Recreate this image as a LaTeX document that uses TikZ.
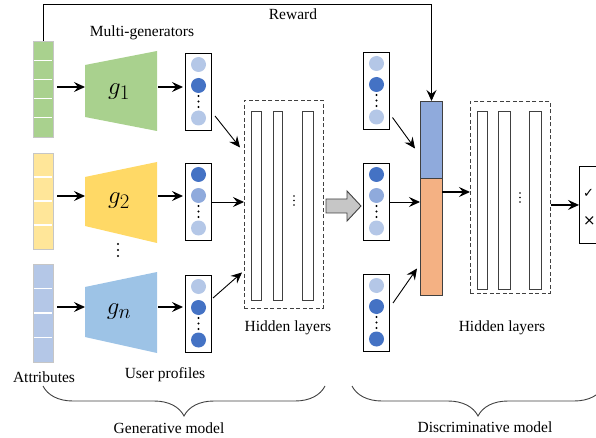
\documentclass[tikz,border=0pt]{standalone}
\usepackage{fontspec}
\setmainfont{Liberation Serif}
\newfontfamily\symfont{DejaVu Sans}
\usetikzlibrary{arrows.meta,decorations.pathreplacing,calc}
\definecolor{attgreen}{HTML}{A9D18E}
\definecolor{attyellow}{HTML}{FFE699}
\definecolor{attblue}{HTML}{B4C7E7}
\definecolor{gengreen}{HTML}{A9D18E}
\definecolor{genyellow}{HTML}{FFD966}
\definecolor{genblue}{HTML}{9DC3E6}
\definecolor{dotlight}{HTML}{B4C7E7}
\definecolor{dotmid}{HTML}{8FAADC}
\definecolor{dotdark}{HTML}{4472C4}
\definecolor{catblue}{HTML}{8FAADC}
\definecolor{catorange}{HTML}{F4B183}
\definecolor{edgegrey}{HTML}{404040}
\newcommand\profilebox[6]{%
  \node[profbox, anchor=north] (#1) at (#2,#3) {};
  \fill[#4] (#2,#3+11.5) circle (7.5pt);
  \fill[#5] (#2,#3+32.5) circle (7.5pt);
  \fill[#6] (#2,#3+65) circle (7.5pt);
  \foreach \dy in {43,48.5,54} {\fill (#2,#3+\dy) circle (1.1pt);}
}
\begin{document}
\begin{tikzpicture}[x=1pt,y=-1pt,
  arr/.style={-{Stealth[length=11pt,width=10pt,inset=4pt]}, line width=1.2pt},
  thinarr/.style={-{Stealth[length=11pt,width=10pt,inset=4pt]}, line width=0.9pt},
  txt/.style={font=\fontsize{15.5}{18}\selectfont, inner sep=0pt},
  glabel/.style={font=\fontsize{28}{32}\selectfont, inner sep=0pt},
  attbar/.style={draw=gray!45, line width=0.8pt, minimum width=20pt, inner sep=0pt},
  profbox/.style={draw, line width=1pt, minimum width=26pt, minimum height=77pt, inner sep=0pt},
  hidbox/.style={draw=edgegrey, dash pattern=on 4pt off 2.5pt, line width=0.9pt, inner sep=0pt, anchor=north west},
  layerbar/.style={draw=edgegrey, line width=1pt, inner sep=0pt, minimum width=10pt, anchor=north west},
  bracestyle/.style={draw=edgegrey, line width=0.9pt, decorate, decoration={brace, mirror, amplitude=30pt}}
]
\useasboundingbox (0,0) rectangle (596,438);

% attribute bars
\node[attbar, fill=attgreen, minimum height=96pt] (a1) at (43,89) {};
\foreach \yy in {60.2,79.4,98.6,117.8} {\draw[white, line width=1.3pt] (33.6,\yy) -- (52.4,\yy);}
\node[attbar, fill=attyellow, minimum height=96pt] (a2) at (43,201) {};
\foreach \yy in {177,201,225} {\draw[white, line width=1.3pt] (33.6,\yy) -- (52.4,\yy);}
\node[attbar, fill=attblue, minimum height=98pt] (a3) at (43,313) {};
\foreach \yy in {288.5,313,337.5} {\draw[white, line width=1.3pt] (33.6,\yy) -- (52.4,\yy);}

% generators
\fill[gengreen] (85,65) -- (157,51) -- (157,131) -- (85,117) -- cycle;
\fill[genyellow] (85,177) -- (157,162) -- (157,243) -- (85,226) -- cycle;
\fill[genblue] (85,287) -- (157,272) -- (157,353) -- (85,337) -- cycle;
\coordinate (t1in) at (85,87);  \coordinate (t1out) at (158,87);
\coordinate (t2in) at (85,196); \coordinate (t2out) at (158,196);
\coordinate (t3in) at (85,307); \coordinate (t3out) at (158,307);
\node[glabel] (g1) at (119,92) {$g_1$};
\node[glabel] (g2) at (119,201) {$g_2$};
\node[glabel] (g3) at (119,312) {$g_n$};
\foreach \yy in {244,250,256} {\fill (118,\yy) circle (1.1pt);}

\draw[arr, shorten <=4pt] (a1.east |- t1in) -- (t1in);
\draw[arr, shorten <=4pt] (a2.east |- t2in) -- (t2in);
\draw[arr, shorten <=4pt] (a3.east |- t3in) -- (t3in);

% user profiles
\profilebox{p1}{198.5}{53}{dotlight}{dotdark}{dotlight}
\profilebox{p2}{198.5}{163}{dotdark}{dotmid}{dotlight}
\profilebox{p3}{198.5}{275}{dotlight}{dotdark}{dotdark}

\draw[arr, shorten >=2pt] (t1out) -- (t1out -| p1.west);
\draw[arr, shorten >=2pt] (t2out) -- (t2out -| p2.west);
\draw[arr, shorten >=2pt] (t3out) -- (t3out -| p3.west);

% hidden layers 1
\node[hidbox, minimum width=79pt, minimum height=208pt] (h1) at (244,100) {};
\node[layerbar, minimum height=189pt] (h1a) at (251,111) {};
\node[layerbar, minimum height=189pt, minimum width=9pt] (h1b) at (273,111) {};
\node[layerbar, minimum height=189pt, minimum width=11pt] (h1c) at (302,111) {};
\foreach \yy in {196,200.5,205} {\fill (294,\yy) circle (0.9pt);}

\draw[thinarr] ($(p1.east)+(3,24)$) -- ($(h1.west)+(-4,-57)$);
\draw[thinarr] (p2.east) -- (p2.east -| h1.west);
\draw[thinarr] ($(p3.east)+(1,-16)$) -- ($(h1.west)+(-2,68)$);

% gray arrow
\filldraw[fill=gray!45, draw=edgegrey, line width=0.9pt]
  (326,199) -- (347,199) -- (347,191) -- (361,206) -- (347,221) -- (347,213) -- (326,213) -- cycle;
\coordinate (garrow) at (343,206);

% discriminator inputs
\profilebox{d1}{376.5}{52}{dotlight}{dotdark}{dotlight}
\profilebox{d2}{376.5}{163}{dotdark}{dotmid}{dotlight}
\profilebox{d3}{376.5}{274}{dotlight}{dotdark}{dotdark}

% concat block
\node[draw=edgegrey, line width=1pt, fill=catblue, minimum width=22pt, minimum height=77pt, inner sep=0pt, anchor=north west] (cb) at (420,101) {};
\node[draw=edgegrey, line width=1pt, fill=catorange, minimum width=22pt, minimum height=117pt, inner sep=0pt, anchor=north west] (co) at (420,178) {};

\draw[thinarr] ($(d1.east)+(2.5,26.5)$) -- ($(cb.west)+(-5,8.5)$);
\draw[thinarr] (d2.east) -- (d2.east -| co.west);
\draw[thinarr] ($(d3.east)+(3,-10)$) -- ($(co.west)+(-3,31.5)$);

% hidden layers 2
\node[hidbox, minimum width=80pt, minimum height=192pt] (h2) at (470,101) {};
\node[layerbar, minimum height=178pt] (h2a) at (477,111) {};
\node[layerbar, minimum height=178pt, minimum width=12pt] (h2b) at (498,111) {};
\node[layerbar, minimum height=178pt, minimum width=12pt] (h2c) at (529,111) {};
\foreach \yy in {193,197.5,202} {\fill (520,\yy) circle (0.9pt);}

\coordinate (cbout) at (442,192);
\draw[arr] (cbout) -- (cbout -| h2.west);

% output
\node[draw, line width=0.9pt, minimum width=40pt, minimum height=77pt, inner sep=0pt, anchor=north west] (out) at (579,166) {};
\node[font=\symfont\fontsize{13}{14}\selectfont, inner sep=0pt, anchor=west] (chk) at (583,193) {✓};
\node[font=\symfont\fontsize{15}{16}\selectfont, inner sep=0pt, anchor=west] (crs) at (583,221) {×};
\draw[arr] (h2.east |- out.west) -- (out.west);

% reward
\draw[line width=0.9pt, -{Stealth[length=11pt,width=10pt,inset=4pt]}] (a1.north) -- ++(0,-36) -| (cb.north);
\node[txt] (rw) at (293,14) {Reward};

% labels
\node[txt] (lmg) at (142,33) {Multi-generators};
\node[txt] (latt) at (44,377) {Attributes};
\node[txt] (lup) at (165,375) {User profiles};
\node[txt] (lh1) at (288,328) {Hidden layers};
\node[txt] (lh2) at (502,328) {Hidden layers};

% braces
\coordinate (bg1) at (43,386); \coordinate (bg2) at (325,386);
\coordinate (bd1) at (352,386); \coordinate (bd2) at (604,386);
\draw[bracestyle] (bg1) -- (bg2);
\draw[bracestyle] (bd1) -- (bd2);
\node[txt] (lgen) at (169,428) {Generative model};
\node[txt] (ldis) at (485,427) {Discriminative model};
\end{tikzpicture}
\end{document}
